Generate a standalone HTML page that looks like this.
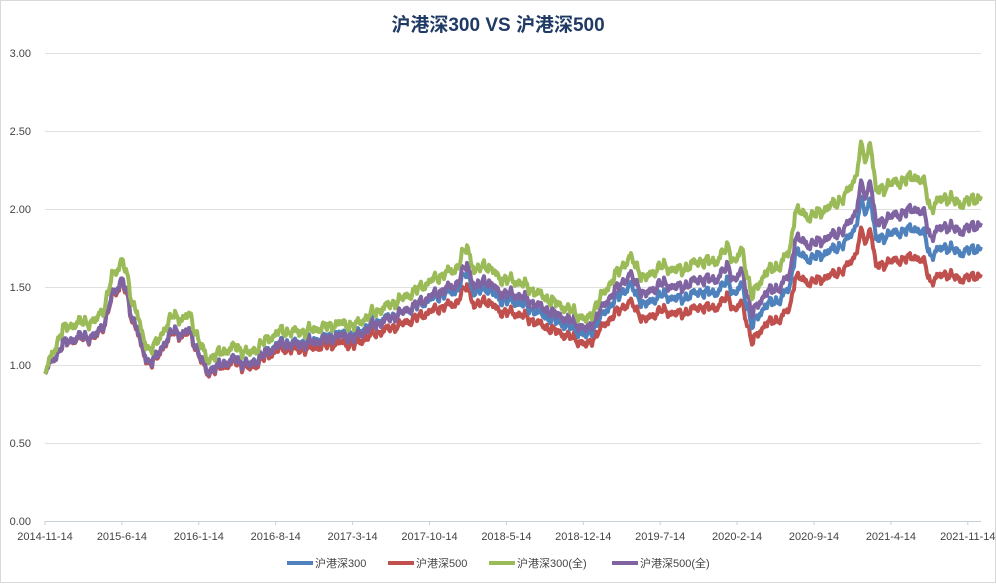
<!DOCTYPE html>
<html><head><meta charset="utf-8"><style>
body{margin:0;background:#fff;}
svg text{font-family:"Liberation Sans","Noto Sans CJK SC",sans-serif;}
</style></head><body>
<svg id="c" width="996" height="583" viewBox="0 0 996 583" xmlns="http://www.w3.org/2000/svg">
<rect x="0.5" y="0.5" width="995" height="582" fill="#fff" stroke="#d9d9d9"/>
<text x="498" y="31" text-anchor="middle" font-size="19" font-weight="bold" fill="#1f3a64">沪港深300 VS 沪港深500</text>
<g stroke="#e0e0e0" stroke-width="1">
<line x1="45" x2="981" y1="53.5" y2="53.5"/><line x1="45" x2="981" y1="131.5" y2="131.5"/>
<line x1="45" x2="981" y1="209.5" y2="209.5"/><line x1="45" x2="981" y1="287.5" y2="287.5"/>
<line x1="45" x2="981" y1="365.5" y2="365.5"/><line x1="45" x2="981" y1="443.5" y2="443.5"/>
</g>
<line x1="45" x2="981" y1="521.5" y2="521.5" stroke="#c8d0dc"/>
<g font-size="11" fill="#444" text-anchor="end">
<text x="31" y="57">3.00</text><text x="31" y="135">2.50</text><text x="31" y="213">2.00</text>
<text x="31" y="291">1.50</text><text x="31" y="369">1.00</text><text x="31" y="447">0.50</text><text x="31" y="525">0.00</text>
</g>
<g id="xl" font-size="11" fill="#444" text-anchor="middle"></g>
<g id="series" fill="none" stroke-width="4" stroke-linejoin="round"></g>
<g font-size="11" fill="#444">
<line x1="287" x2="313" y1="563" y2="563" stroke="#4f81bd" stroke-width="4"/><text x="315" y="567">沪港深300</text>
<line x1="388" x2="414" y1="563" y2="563" stroke="#c0504d" stroke-width="4"/><text x="416" y="567">沪港深500</text>
<line x1="489" x2="515" y1="563" y2="563" stroke="#9bbb59" stroke-width="4"/><text x="517" y="567">沪港深300(全)</text>
<line x1="612" x2="638" y1="563" y2="563" stroke="#8064a2" stroke-width="4"/><text x="640" y="567">沪港深500(全)</text>
</g>
</svg>
<script>
var ns="http://www.w3.org/2000/svg";
var labs=["2014-11-14","2015-6-14","2016-1-14","2016-8-14","2017-3-14","2017-10-14","2018-5-14","2018-12-14","2019-7-14","2020-2-14","2020-9-14","2021-4-14","2021-11-14"];
var xl=document.getElementById("xl");
labs.forEach(function(l,i){var x=45+i*76.9;
 var t=document.createElementNS(ns,"text");t.setAttribute("x",x);t.setAttribute("y",540);t.textContent=l;xl.appendChild(t);
 var k=document.createElementNS(ns,"line");k.setAttribute("x1",x);k.setAttribute("x2",x);k.setAttribute("y1",521);k.setAttribute("y2",525);k.setAttribute("stroke","#c8d0dc");xl.appendChild(k);});
var kp=[[45,0.96],[55,1.05],[63,1.14],[80,1.18],[95,1.18],[105,1.28],[112,1.45],[118,1.5],[122,1.56],[127,1.45],[132,1.3],[137,1.25],[142,1.1],[148,1.02],[158,1.06],[165,1.15],[173,1.22],[182,1.2],[190,1.22],[197,1.1],[207,0.96],[220,1.0],[235,1.04],[250,1.0],[265,1.08],[280,1.14],[300,1.14],[315,1.16],[340,1.2],[355,1.19],[370,1.26],[400,1.33],[430,1.42],[445,1.46],[455,1.47],[467,1.6],[475,1.45],[485,1.5],[500,1.42],[520,1.4],[540,1.33],[560,1.27],[575,1.23],[587,1.18],[600,1.3],[615,1.42],[630,1.51],[645,1.38],[660,1.45],[680,1.42],[700,1.47],[715,1.46],[728,1.54],[735,1.45],[742,1.52],[752,1.25],[765,1.38],[780,1.42],[790,1.5],[795,1.72],[810,1.68],[830,1.73],[845,1.78],[855,1.88],[862,2.06],[866,1.95],[870,2.1],[876,1.8],[890,1.84],[905,1.86],[915,1.88],[925,1.83],[930,1.7],[945,1.76],[960,1.72],[980,1.75]];
var rg=[[45,1.0],[60,1.08],[200,1.08],[370,1.05],[467,1.1],[587,1.085],[630,1.12],[728,1.14],[752,1.15],[860,1.17],[980,1.185]];
var rp=[[45,1.0],[200,1.0],[370,0.985],[467,1.03],[587,1.035],[630,1.045],[728,1.06],[860,1.05],[980,1.087]];
var rr=[[45,1.0],[120,0.99],[200,0.99],[370,0.945],[467,0.945],[587,0.95],[630,0.93],[728,0.935],[752,0.915],[860,0.905],[980,0.9]];
function interp(a,x){for(var i=0;i<a.length-1;i++){if(x<=a[i+1][0]){var p=a[i],q=a[i+1],f=(x-p[0])/(q[0]-p[0]);return p[1]+(q[1]-p[1])*f;}}return a[a.length-1][1];}
function noise(x){return 0.016*Math.sin(x*0.9)+0.013*Math.sin(x*2.3+1)+0.009*Math.sin(x*5.1+2)+0.012*Math.sin(x*0.41);}
var ser=[["#c0504d",rr],["#4f81bd",null],["#8064a2",rp],["#9bbb59",rg]];
var g=document.getElementById("series");
ser.forEach(function(s){var d="";for(var x=45;x<=981;x+=1){var r=s[1]?interp(s[1],x):1;var v=(interp(kp,x)+noise(x))*r;var y=521-v*156;d+=(x==45?"M":"L")+x+","+y.toFixed(1);}
 var p=document.createElementNS(ns,"path");p.setAttribute("d",d);p.setAttribute("stroke",s[0]);g.appendChild(p);});
</script>
</body></html>
